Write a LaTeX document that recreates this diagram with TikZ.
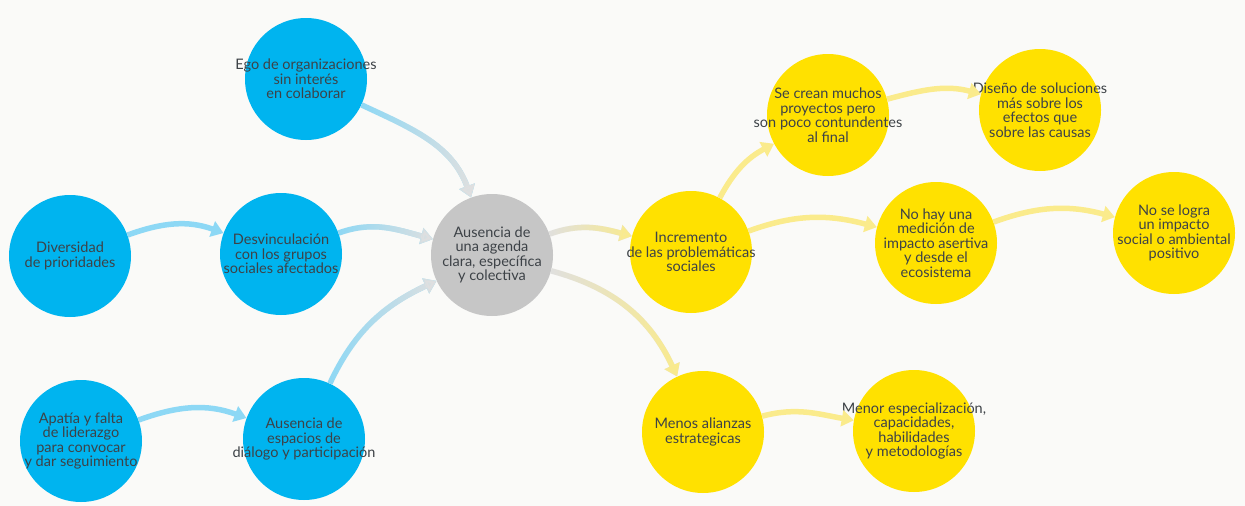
\documentclass[tikz,border=0pt]{standalone}
\usepackage{fontspec}
\setmainfont{Lato}
\usetikzlibrary{arrows.meta,fadings}

\definecolor{bgcol}{HTML}{FAFAF8}
\definecolor{bluebub}{HTML}{00B4EF}
\definecolor{yelbub}{HTML}{FFE100}
\definecolor{graybub}{HTML}{C6C6C6}
\definecolor{bluearr}{HTML}{8DD8F5}
\definecolor{grayarr}{HTML}{E0E0E0}
\definecolor{yelarr}{HTML}{FAEB8C}
\definecolor{txtcol}{HTML}{3D4247}

\tikzfading[name=fadein, left color=transparent!100, right color=transparent!0]

\begin{document}
\begin{tikzpicture}[x=1pt,y=1pt,
    bub/.style={circle,fill=#1,minimum size=122pt,inner sep=0pt},
    txt/.style={align=center,text=txtcol,font=\fontsize{14.5}{14.5}\selectfont},
    link/.style={draw=#1,line width=5.5pt,-{Triangle[width=16pt,length=12pt]}},
    fadelink/.style 2 args={link=#1,postaction={draw=#2,path fading=fadein}}]
  \fill[bgcol] (0,0) rectangle (1245,-506);

  % causes
  \node[bub=bluebub,label={[txt]center:{Ego de organizaciones\\sin interés\\en colaborar}}] (ego) at (306,-79) {};
  \node[bub=bluebub,label={[txt]center:{Diversidad\\de prioridades}}] (div) at (70,-256) {};
  \node[bub=bluebub,label={[txt]center:{Desvinculación\\con los grupos\\sociales afectados}}] (des) at (281,-254) {};
  \node[bub=bluebub,label={[txt]center:{Apatía y falta\\de liderazgo\\para convocar\\y dar seguimiento}}] (apa) at (81,-441) {};
  \node[bub=bluebub,label={[txt]center:{Ausencia de\\espacios de\\diálogo y participación}}] (esp) at (304,-439) {};

  % core problem
  \node[bub=graybub,label={[txt]center:{Ausencia de\\una agenda\\clara, específica\\y colectiva}}] (age) at (492,-255) {};

  % effects
  \node[bub=yelbub,label={[txt]center:{Incremento\\de las problemáticas\\sociales}}] (inc) at (691,-252) {};
  \node[bub=yelbub,label={[txt]center:{Se crean muchos\\proyectos pero\\son poco contundentes\\al final}}] (cre) at (828,-115) {};
  \node[bub=yelbub,label={[txt]center:{Diseño de soluciones\\más sobre los\\efectos que\\sobre las causas}}] (dis) at (1040,-110) {};
  \node[bub=yelbub,label={[txt]center:{No hay una\\medición de\\impacto asertiva\\y desde el\\ecosistema}}] (med) at (936,-243) {};
  \node[bub=yelbub,label={[txt]center:{No se logra\\un impacto\\social o ambiental\\positivo}}] (log) at (1174,-233) {};
  \node[bub=yelbub,label={[txt]center:{Menos alianzas\\estrategicas}}] (ali) at (703,-432) {};
  \node[bub=yelbub,label={[txt]center:{Menor especialización,\\capacidades,\\habilidades\\y metodologías}}] (men) at (914,-431) {};

  \foreach \a/\b/\o/\i in {div/des/20/160, apa/esp/20/160}
    \draw[link=bluearr] (\a) to[out=\o,in=\i] (\b);
  \foreach \a/\b/\o/\i in {des/age/20/165, ego/age/-25/110, esp/age/65/205}
    \draw[fadelink={bluearr}{grayarr}] (\a) to[out=\o,in=\i] (\b);
  \foreach \a/\b/\o/\i in {age/inc/20/165, age/ali/-15/115}
    \draw[fadelink={grayarr}{yelarr}] (\a) to[out=\o,in=\i] (\b);
  \foreach \a/\b/\o/\i in {inc/cre/62/208, inc/med/20/165, cre/dis/15/165, med/log/20/165, ali/men/15/170}
    \draw[link=yelarr] (\a) to[out=\o,in=\i] (\b);
\end{tikzpicture}
\end{document}
